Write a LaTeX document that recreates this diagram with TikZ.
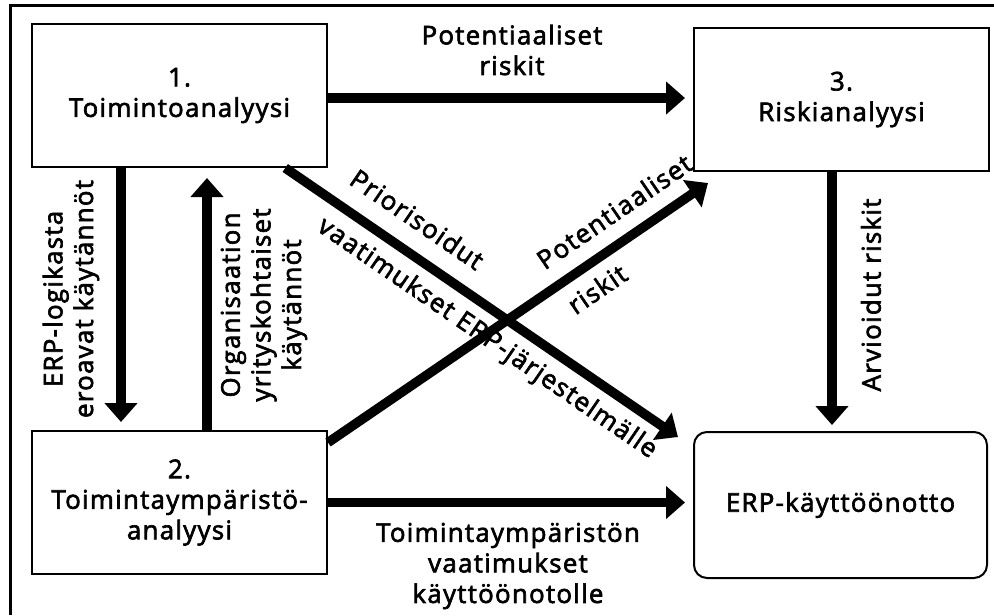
\documentclass[tikz,border=0pt]{standalone}
\usepackage{fontspec}
\setmainfont{Open Sans}[LetterSpace=5,UprightFeatures={FakeBold=2.5}]
\usetikzlibrary{arrows.meta,calc}

\begin{document}
\begin{tikzpicture}[x=0.2mm,y=-0.2mm,font=\fontsize{14.7}{17.4}\selectfont,
  box/.style={draw,line width=0.4mm,minimum width=59mm,minimum height=28.6mm,align=center},
  endbox/.style={box,rounded corners=2.6mm,minimum width=58.6mm,minimum height=29.2mm},
  fat/.style={line width=1.9mm,-{Triangle[length=3.8mm,width=6.4mm]}},
  lbl/.style={align=center,inner sep=0pt},
  lblup/.style={sloped,inner xsep=0pt,text depth=0pt,anchor=south west,inner ysep=#1},
  lbldn/.style={sloped,inner xsep=0pt,text height=3mm,anchor=north west,inner ysep=#1}
]
  \useasboundingbox (0,0) rectangle (994,615);
  \draw[line width=0.5mm] (10.5,615) -- (10.5,5.5) -- (994,5.5);

  \node[box] (b1) at (179.5,95.5) {1.\\Toimintoanalyysi};
  \node[box] (b2) at (179.5,502.5) {2.\\Toimintaympäristö-\\analyysi};
  \node[box] (b3) at (841.5,99.5) {3.\\Riskianalyysi};
  \node[endbox] (b4) at (840.5,505) {ERP-käyttöönotto};

  \coordinate (tA) at (678,437);
  \coordinate (tB) at (708,183);

  \draw[fat] ($(b1.east)+(0,2.5)$) -- ($(b1.east-|b3.west)+(-8,2.5)$);
  \draw[fat] ($(b1.south)+(-58.5,0)$) -- ($(b2.north)+(-58.5,-8)$);
  \draw[fat] ($(b2.north)+(27.5,0)$) -- ($(b1.south)+(27.5,10)$);
  \draw[fat] ($(b3.south)+(-9.5,0)$) -- ($(b4.north)+(-8.5,-6)$);
  \draw[fat] (b2.east) -- ($(b2.east-|b4.west)+(-8,0)$);
  \draw[fat] (b1) -- (tA)
    node[lblup=3.6mm,pos=.117] {Priorisoidut}
    node[lbldn=2.8mm,pos=.117] {vaatimukset ERP-järjestelmälle};
  \draw[fat] (b2.22) -- (tB)
    node[lblup=3mm,pos=.59] {Potentiaaliset}
    node[lbldn=3mm,pos=.59] {riskit};

  \node[lbl] (l1) at (512,50) {Potentiaaliset\\riskit};
  \node[lbl,rotate=90] (l2) at (71,299) {ERP-logikasta\\eroavat käytännöt};
  \node[lbl,rotate=90] (l3) at (264,305) {Organisaation\\yrityskohtaiset\\käytännöt};
  \node[lbl,rotate=90] (l4) at (871,295) {Arvioidut riskit};
  \node[lbl] (l5) at (508,566) {Toimintaympäristön\\vaatimukset\\käyttöönotolle};
\end{tikzpicture}
\end{document}
